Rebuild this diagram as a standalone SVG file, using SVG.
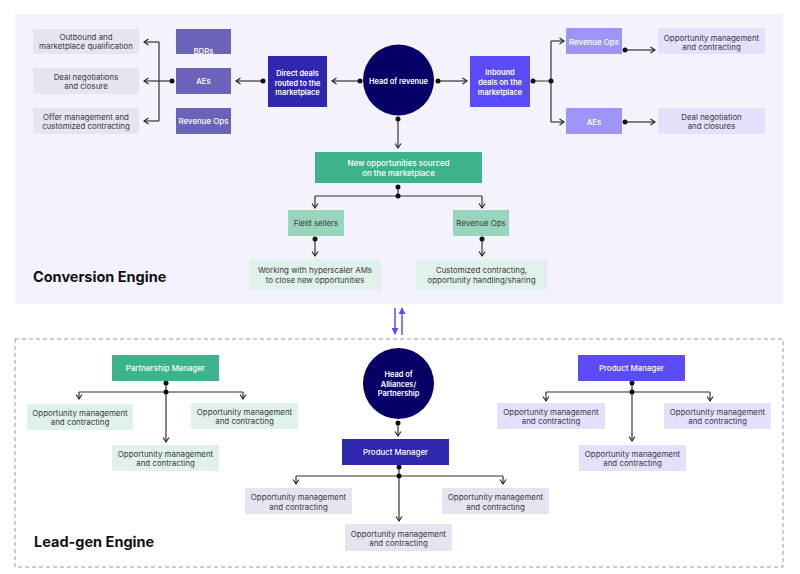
<svg xmlns="http://www.w3.org/2000/svg" width="800" height="574" viewBox="0 0 800 574">
<defs>
<marker id="arr" viewBox="0 0 8 8" refX="7" refY="4" markerWidth="8" markerHeight="8" markerUnits="userSpaceOnUse" orient="auto">
<path d="M2.5,1 L7,4 L2.5,7" fill="none" stroke="#222" stroke-width="1.1"/>
</marker>
<marker id="tri" viewBox="0 0 8 8" refX="7" refY="4" markerWidth="7" markerHeight="7" markerUnits="userSpaceOnUse" orient="auto">
<path d="M0,0 L8,4 L0,8 Z" fill="#5b4cf5"/>
</marker>
<style>
text{font-family:Inter,"Noto Sans","Liberation Sans",sans-serif;font-size:7.9px;text-anchor:middle;fill:#3a3a3a}
.w{fill:#ffffff;font-weight:500}
.b{font-weight:600;font-size:7.4px}
.t{font-size:14.5px;font-weight:700;text-anchor:start;fill:#111}
.c{fill:none;stroke:#333;stroke-width:1.2}
.d{fill:#111}
.gray{fill:#e5e4f0}
.mid{fill:#6b63b9}
.dark{fill:#2f27ad}
.navy{fill:#060066}
.vio{fill:#5a4bf6}
.lvio{fill:#9e96f7}
.pale{fill:#e3e0fb}
.grn{fill:#3cb38a}
.lgrn{fill:#98d5ba}
.pgrn{fill:#dff1ea}
</style>
</defs>
<rect x="15" y="14" width="768" height="290" fill="#f4f3fd"/>
<rect x="15" y="339" width="768" height="228" fill="none" stroke="#9a9a9a" stroke-width="1" stroke-dasharray="4,3"/>
<text class="t" x="33" y="282">Conversion Engine</text>
<text class="t" x="34" y="547">Lead-gen Engine</text>

<g id="connectors">
<path class="c" d="M159,42 V121"/>
<line class="c" x1="159" y1="42" x2="144" y2="42" marker-end="url(#arr)"/>
<line class="c" x1="172" y1="81" x2="144" y2="81" marker-end="url(#arr)"/>
<line class="c" x1="159" y1="121" x2="144" y2="121" marker-end="url(#arr)"/>
<circle class="d" cx="172" cy="81" r="2.5"/>
<line class="c" x1="263" y1="81" x2="236" y2="81" marker-end="url(#arr)"/>
<circle class="d" cx="263" cy="81" r="2.5"/>
<line class="c" x1="360" y1="81" x2="332" y2="81" marker-end="url(#arr)"/>
<circle class="d" cx="360" cy="81" r="2.5"/>
<line class="c" x1="438" y1="81" x2="467" y2="81" marker-end="url(#arr)"/>
<circle class="d" cx="438" cy="81" r="2.5"/>
<path class="c" d="M533,81 H551 M551,41 V122"/>
<line class="c" x1="551" y1="41" x2="564" y2="41" marker-end="url(#arr)"/>
<line class="c" x1="551" y1="122" x2="564" y2="122" marker-end="url(#arr)"/>
<circle class="d" cx="533" cy="81" r="2.5"/>
<circle class="d" cx="551" cy="81" r="2.5"/>
<line class="c" x1="625" y1="50" x2="655" y2="50" marker-end="url(#arr)"/>
<circle class="d" cx="625" cy="50" r="2.5"/>
<line class="c" x1="625" y1="122" x2="655" y2="122" marker-end="url(#arr)"/>
<circle class="d" cx="625" cy="122" r="2.5"/>
<line class="c" x1="398" y1="119" x2="398" y2="148" marker-end="url(#arr)"/>
<circle class="d" cx="398" cy="119" r="2.5"/>
<path class="c" d="M398,187 V196 M315,196 H482"/>
<line class="c" x1="315" y1="196" x2="315" y2="208" marker-end="url(#arr)"/>
<line class="c" x1="482" y1="196" x2="482" y2="208" marker-end="url(#arr)"/>
<circle class="d" cx="398" cy="187" r="2.5"/>
<circle class="d" cx="398" cy="196" r="2.5"/>
<line class="c" x1="315" y1="239" x2="315" y2="256" marker-end="url(#arr)"/>
<circle class="d" cx="315" cy="239" r="2.5"/>
<line class="c" x1="482" y1="239" x2="482" y2="256" marker-end="url(#arr)"/>
<circle class="d" cx="482" cy="239" r="2.5"/>
<line x1="395" y1="308" x2="395" y2="334" stroke="#5b4cf5" stroke-width="1.5" marker-end="url(#tri)"/>
<line x1="402" y1="335" x2="402" y2="308" stroke="#5b4cf5" stroke-width="1.5" marker-end="url(#tri)"/>
<path class="c" d="M166,383 V392 M79,392 H243"/>
<line class="c" x1="79" y1="392" x2="79" y2="399" marker-end="url(#arr)"/>
<line class="c" x1="243" y1="392" x2="243" y2="399" marker-end="url(#arr)"/>
<line class="c" x1="166" y1="392" x2="166" y2="442" marker-end="url(#arr)"/>
<circle class="d" cx="166" cy="383" r="2.5"/>
<circle class="d" cx="166" cy="392" r="2.5"/>
<line class="c" x1="398" y1="423" x2="398" y2="436" marker-end="url(#arr)"/>
<circle class="d" cx="398" cy="423" r="2.5"/>
<path class="c" d="M399,467 V476 M296,476 H503"/>
<line class="c" x1="296" y1="476" x2="296" y2="484" marker-end="url(#arr)"/>
<line class="c" x1="503" y1="476" x2="503" y2="484" marker-end="url(#arr)"/>
<line class="c" x1="399" y1="476" x2="399" y2="521" marker-end="url(#arr)"/>
<circle class="d" cx="399" cy="467" r="2.5"/>
<circle class="d" cx="399" cy="476" r="2.5"/>
<path class="c" d="M632,383 V392 M546,392 H710"/>
<line class="c" x1="546" y1="392" x2="546" y2="401" marker-end="url(#arr)"/>
<line class="c" x1="710" y1="392" x2="710" y2="401" marker-end="url(#arr)"/>
<line class="c" x1="632" y1="392" x2="632" y2="441" marker-end="url(#arr)"/>
<circle class="d" cx="632" cy="383" r="2.5"/>
<circle class="d" cx="632" cy="392" r="2.5"/>
</g>

<g id="outbound"><rect class="gray" x="33" y="29" width="106" height="25"/><text x="86" y="40">Outbound and</text><text x="86" y="49">marketplace qualification</text></g>
<g id="dealneg"><rect class="gray" x="33" y="68" width="106" height="26"/><text x="86" y="80">Deal negotiations</text><text x="86" y="89">and closure</text></g>
<g id="offer"><rect class="gray" x="33" y="108" width="106" height="26"/><text x="86" y="120">Offer management and</text><text x="86" y="129">customized contracting</text></g>
<g id="bdrs"><rect class="mid" x="176" y="29" width="55" height="25"/><text class="w" x="203.5" y="53.5">BDRs</text></g>
<g id="aes-left"><rect class="mid" x="176" y="68" width="55" height="26"/><text class="w" x="203.5" y="84">AEs</text></g>
<g id="revops-left"><rect class="mid" x="176" y="108" width="55" height="26"/><text class="w" x="203.5" y="124">Revenue Ops</text></g>
<g id="direct"><rect class="dark" x="268" y="56" width="59" height="51"/><text class="w b" x="297.5" y="76">Direct deals</text><text class="w b" x="297.5" y="85.5">routed to the</text><text class="w b" x="297.5" y="95">marketplace</text></g>
<g id="head-revenue"><circle class="navy" cx="398.5" cy="80" r="35.5"/><text class="w b" x="398.5" y="83.5">Head of revenue</text></g>
<g id="inbound"><rect class="vio" x="470" y="56" width="60" height="51"/><text class="w b" x="500" y="75">Inbound</text><text class="w b" x="500" y="85">deals on the</text><text class="w b" x="500" y="94.5">marketplace</text></g>
<g id="revops-right"><rect class="lvio" x="566" y="28" width="56" height="26"/><text class="w" x="594" y="45">Revenue Ops</text></g>
<g id="aes-right"><rect class="lvio" x="566" y="108" width="56" height="26"/><text class="w" x="594" y="125">AEs</text></g>
<g id="opp-right"><rect class="pale" x="658" y="28" width="107" height="26"/><text x="711.5" y="40.5">Opportunity management</text><text x="711.5" y="50">and contracting</text></g>
<g id="dealneg-right"><rect class="pale" x="658" y="108" width="107" height="26"/><text x="711.5" y="119.5">Deal negotiation</text><text x="711.5" y="129">and closures</text></g>
<g id="new-opps"><rect class="grn" x="315" y="152" width="167" height="31"/><text class="w" x="398.5" y="166">New opportunities sourced</text><text class="w" x="398.5" y="176">on the marketplace</text></g>
<g id="field"><rect class="lgrn" x="288" y="210" width="56" height="26"/><text x="316" y="226">Field sellers</text></g>
<g id="revops-mid"><rect class="lgrn" x="453" y="210" width="56" height="26"/><text x="481" y="226">Revenue Ops</text></g>
<g id="working"><rect class="pgrn" x="249" y="259" width="132" height="31"/><text x="315" y="273">Working with hyperscaler AMs</text><text x="315" y="283">to close new opportunities</text></g>
<g id="customized"><rect class="pgrn" x="416" y="259" width="131" height="31"/><text x="481.5" y="273">Customized contracting,</text><text x="481.5" y="283">opportunity handling/sharing</text></g>

<g id="partnership-mgr"><rect class="grn" x="112" y="355" width="107" height="26"/><text class="w" x="165.5" y="371">Partnership Manager</text></g>
<g id="pm-l"><rect class="pgrn" x="27" y="404" width="106" height="26"/><text x="80" y="416">Opportunity management</text><text x="80" y="425">and contracting</text></g>
<g id="pm-r"><rect class="pgrn" x="191" y="403" width="107" height="26"/><text x="244.5" y="415">Opportunity management</text><text x="244.5" y="424">and contracting</text></g>
<g id="pm-b"><rect class="pgrn" x="112" y="445" width="107" height="26"/><text x="165.5" y="457">Opportunity management</text><text x="165.5" y="466">and contracting</text></g>

<g id="head-alliances"><circle class="navy" cx="398.5" cy="383.5" r="35.5"/><text class="w b" x="398.5" y="377">Head of</text><text class="w b" x="398.5" y="386.5">Alliances/</text><text class="w b" x="398.5" y="396">Partnership</text></g>
<g id="product-mgr-c"><rect class="dark" x="342" y="439" width="107" height="26"/><text class="w" x="395.5" y="455">Product Manager</text></g>
<g id="pc-l"><rect class="gray" x="245" y="488" width="107" height="26"/><text x="298.5" y="500">Opportunity management</text><text x="298.5" y="509.5">and contracting</text></g>
<g id="pc-r"><rect class="gray" x="442" y="488" width="107" height="26"/><text x="495.5" y="500">Opportunity management</text><text x="495.5" y="509.5">and contracting</text></g>
<g id="pc-b"><rect class="gray" x="345" y="524" width="107" height="27"/><text x="398.5" y="536.5">Opportunity management</text><text x="398.5" y="546">and contracting</text></g>

<g id="product-mgr-r"><rect class="vio" x="578" y="355" width="107" height="26"/><text class="w" x="631.5" y="371">Product Manager</text></g>
<g id="pr-l"><rect class="pale" x="497" y="403" width="108" height="26"/><text x="551" y="415">Opportunity management</text><text x="551" y="424">and contracting</text></g>
<g id="pr-r"><rect class="pale" x="664" y="403" width="107" height="26"/><text x="717.5" y="415">Opportunity management</text><text x="717.5" y="424">and contracting</text></g>
<g id="pr-b"><rect class="pale" x="579" y="445" width="107" height="26"/><text x="632.5" y="457">Opportunity management</text><text x="632.5" y="466">and contracting</text></g>
</svg>
